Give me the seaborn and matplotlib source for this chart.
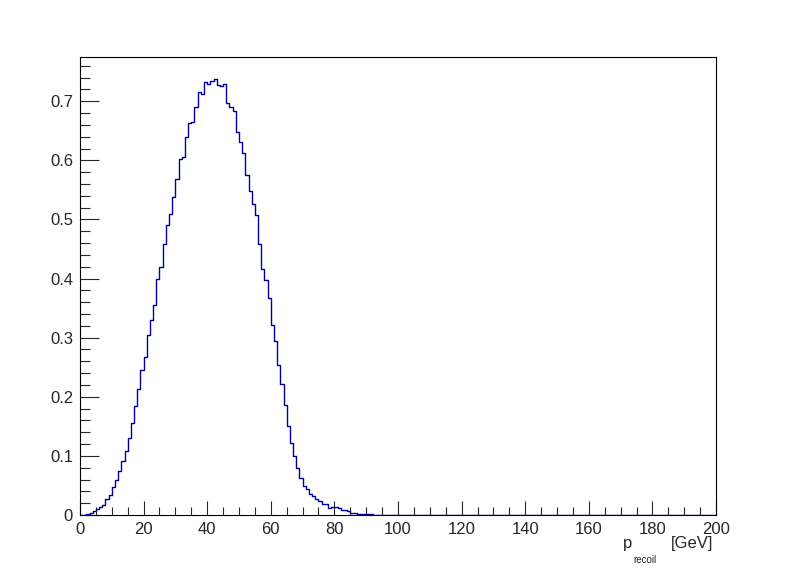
import numpy as np
import pandas as pd
import matplotlib
matplotlib.use("Agg")
import matplotlib.pyplot as plt
import seaborn as sns
from matplotlib.ticker import MultipleLocator

# conteudo de cada bin (largura 1 GeV), bins 0..91; o resto ate 200 e zero
bin_low = list(range(0, 92))
conteudo = [
    0.0, 0.0005, 0.0017, 0.004, 0.006, 0.0096, 0.013, 0.017, 0.0265, 0.034,
    0.047, 0.059, 0.074, 0.091, 0.109, 0.131, 0.156, 0.185, 0.2125, 0.246,
    0.268, 0.305, 0.330, 0.356, 0.400, 0.419, 0.458, 0.490, 0.510, 0.538,
    0.568, 0.603, 0.605, 0.640, 0.663, 0.6645, 0.691, 0.715, 0.713, 0.733,
    0.730, 0.735, 0.738, 0.727, 0.7265, 0.730, 0.697, 0.691, 0.683, 0.648,
    0.631, 0.612, 0.576, 0.548, 0.527, 0.508, 0.459, 0.4166, 0.398, 0.3675,
    0.322, 0.295, 0.254, 0.222, 0.1866, 0.151, 0.122, 0.100, 0.080, 0.063,
    0.0496, 0.0445, 0.036, 0.0327, 0.0265, 0.024, 0.019, 0.019, 0.0124, 0.014,
    0.0135, 0.011, 0.008, 0.008, 0.0068, 0.004, 0.004, 0.0017, 0.001, 0.001,
    0.001, 0.001,
]
x_min, x_max = 0, 200

df = pd.DataFrame({"p": np.array(bin_low) + 0.5, "w": conteudo})

sns.set_style("ticks")
plt.rcParams["font.family"] = ["Liberation Sans", "DejaVu Sans"]

W, H = 796, 572
fig = plt.figure(figsize=(W / 100, H / 100), dpi=100)
ax = fig.add_axes([0.1005, 0.0997, 0.799, 0.8006])

sns.histplot(data=df, x="p", weights="w", binwidth=1, binrange=(x_min, x_max),
             element="step", fill=False, color="#0000a0", linewidth=1.0, ax=ax)

ax.set_xlim(x_min, x_max)
ax.set_ylim(0, 1.05 * max(conteudo))
ax.set_ylabel("")
ax.set_xlabel("")

# titulo do eixo x no estilo ROOT: p com subscrito "recoil" e [GeV]
fig.text(623 / W, 1 - 548 / H, "p", fontsize=12, ha="left", va="baseline")
fig.text(633 / W, 1 - 563 / H, "recoil", fontsize=7, ha="left", va="baseline")
fig.text(713 / W, 1 - 548 / H, "[GeV]", fontsize=12, ha="right", va="baseline")

for s in ax.spines.values():
    s.set_visible(True)
    s.set_linewidth(0.8)
    s.set_color("black")

ax.xaxis.set_major_locator(MultipleLocator(20))
ax.xaxis.set_minor_locator(MultipleLocator(5))
ax.yaxis.set_major_locator(MultipleLocator(0.1))
ax.yaxis.set_minor_locator(MultipleLocator(0.02))
ax.set_yticks(np.arange(0, 0.75, 0.1))
ax.set_yticklabels(["0"] + [f"{v:.1f}" for v in np.arange(0.1, 0.75, 0.1)])

ax.tick_params(axis="x", which="major", direction="in", length=10, width=0.8,
               labelsize=12, pad=5, top=False)
ax.tick_params(axis="x", which="minor", direction="in", length=5.5, width=0.8, top=False)
ax.tick_params(axis="y", which="major", direction="in", length=14, width=0.8,
               labelsize=12, pad=5, right=False)
ax.tick_params(axis="y", which="minor", direction="in", length=7, width=0.8, right=False)

plt.savefig("out.png", dpi=100)
